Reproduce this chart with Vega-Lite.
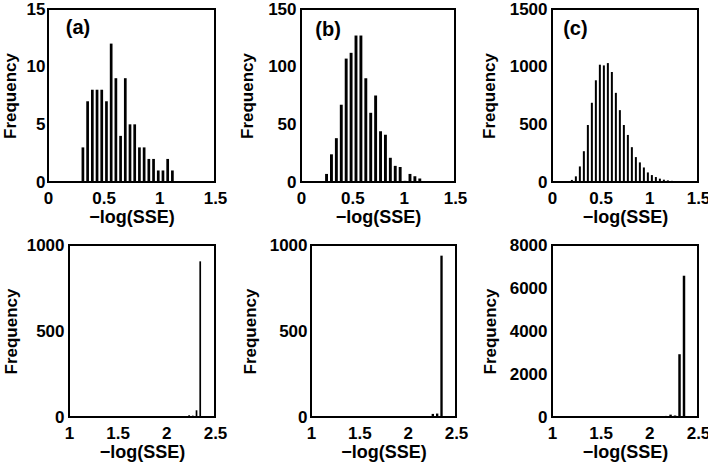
{
  "$schema": "https://vega.github.io/schema/vega-lite/v6.json",
  "padding": {"left": 0, "top": -1, "right": 0, "bottom": 0},
  "background": "white",
  "datasets": {
    "a1": [
      {"lo": 0.2879, "hi": 0.3302, "n": 3},
      {"lo": 0.3302, "hi": 0.3725, "n": 7},
      {"lo": 0.3725, "hi": 0.4148, "n": 8},
      {"lo": 0.4148, "hi": 0.4571, "n": 8},
      {"lo": 0.4571, "hi": 0.4994, "n": 8},
      {"lo": 0.4994, "hi": 0.5417, "n": 7},
      {"lo": 0.5417, "hi": 0.5840, "n": 12},
      {"lo": 0.5840, "hi": 0.6263, "n": 9},
      {"lo": 0.6263, "hi": 0.6686, "n": 4},
      {"lo": 0.6686, "hi": 0.7109, "n": 9},
      {"lo": 0.7109, "hi": 0.7532, "n": 5},
      {"lo": 0.7532, "hi": 0.7955, "n": 5},
      {"lo": 0.7955, "hi": 0.8378, "n": 3},
      {"lo": 0.8378, "hi": 0.8801, "n": 3},
      {"lo": 0.8801, "hi": 0.9224, "n": 2},
      {"lo": 0.9224, "hi": 0.9647, "n": 2},
      {"lo": 0.9647, "hi": 1.0070, "n": 1},
      {"lo": 1.0070, "hi": 1.0493, "n": 1},
      {"lo": 1.0493, "hi": 1.0916, "n": 2},
      {"lo": 1.0916, "hi": 1.1339, "n": 1}
    ],
    "b1": [
      {"lo": 0.2201, "hi": 0.2679, "n": 7},
      {"lo": 0.2679, "hi": 0.3157, "n": 24},
      {"lo": 0.3157, "hi": 0.3635, "n": 38},
      {"lo": 0.3635, "hi": 0.4113, "n": 67},
      {"lo": 0.4113, "hi": 0.4591, "n": 107},
      {"lo": 0.4591, "hi": 0.5069, "n": 112},
      {"lo": 0.5069, "hi": 0.5547, "n": 127},
      {"lo": 0.5547, "hi": 0.6025, "n": 127},
      {"lo": 0.6025, "hi": 0.6503, "n": 90},
      {"lo": 0.6503, "hi": 0.6981, "n": 60},
      {"lo": 0.6981, "hi": 0.7459, "n": 75},
      {"lo": 0.7459, "hi": 0.7937, "n": 44},
      {"lo": 0.7937, "hi": 0.8415, "n": 41},
      {"lo": 0.8415, "hi": 0.8893, "n": 21},
      {"lo": 0.8893, "hi": 0.9371, "n": 14},
      {"lo": 0.9371, "hi": 0.9849, "n": 13},
      {"lo": 0.9849, "hi": 1.0327, "n": 1},
      {"lo": 1.0327, "hi": 1.0805, "n": 7},
      {"lo": 1.0805, "hi": 1.1283, "n": 5},
      {"lo": 1.1283, "hi": 1.1761, "n": 3}
    ],
    "c1": [
      {"lo": 0.0140, "hi": 0.0551, "n": 2},
      {"lo": 0.0551, "hi": 0.0962, "n": 3},
      {"lo": 0.0962, "hi": 0.1373, "n": 5},
      {"lo": 0.1373, "hi": 0.1784, "n": 8},
      {"lo": 0.1784, "hi": 0.2195, "n": 18},
      {"lo": 0.2195, "hi": 0.2606, "n": 49},
      {"lo": 0.2606, "hi": 0.3017, "n": 135},
      {"lo": 0.3017, "hi": 0.3428, "n": 267},
      {"lo": 0.3428, "hi": 0.3839, "n": 494},
      {"lo": 0.3839, "hi": 0.4250, "n": 687},
      {"lo": 0.4250, "hi": 0.4661, "n": 882},
      {"lo": 0.4661, "hi": 0.5072, "n": 1017},
      {"lo": 0.5072, "hi": 0.5483, "n": 1011},
      {"lo": 0.5483, "hi": 0.5894, "n": 1031},
      {"lo": 0.5894, "hi": 0.6305, "n": 954},
      {"lo": 0.6305, "hi": 0.6716, "n": 773},
      {"lo": 0.6716, "hi": 0.7127, "n": 623},
      {"lo": 0.7127, "hi": 0.7538, "n": 494},
      {"lo": 0.7538, "hi": 0.7949, "n": 408},
      {"lo": 0.7949, "hi": 0.8360, "n": 302},
      {"lo": 0.8360, "hi": 0.8771, "n": 216},
      {"lo": 0.8771, "hi": 0.9182, "n": 170},
      {"lo": 0.9182, "hi": 0.9593, "n": 126},
      {"lo": 0.9593, "hi": 1.0004, "n": 83},
      {"lo": 1.0004, "hi": 1.0415, "n": 60},
      {"lo": 1.0415, "hi": 1.0826, "n": 43},
      {"lo": 1.0826, "hi": 1.1237, "n": 29},
      {"lo": 1.1237, "hi": 1.1648, "n": 20},
      {"lo": 1.1648, "hi": 1.2059, "n": 14},
      {"lo": 1.2059, "hi": 1.2470, "n": 10},
      {"lo": 1.2470, "hi": 1.2881, "n": 7},
      {"lo": 1.2881, "hi": 1.3292, "n": 5},
      {"lo": 1.3292, "hi": 1.3703, "n": 4},
      {"lo": 1.3703, "hi": 1.4114, "n": 3},
      {"lo": 1.4114, "hi": 1.4525, "n": 2}
    ],
    "a2": [
      {"lo": 1.488, "hi": 1.526, "n": 1},
      {"lo": 1.526, "hi": 1.564, "n": 1},
      {"lo": 1.564, "hi": 1.602, "n": 1},
      {"lo": 1.602, "hi": 1.640, "n": 1},
      {"lo": 1.640, "hi": 1.678, "n": 2},
      {"lo": 1.678, "hi": 1.716, "n": 1},
      {"lo": 1.716, "hi": 1.754, "n": 1},
      {"lo": 1.754, "hi": 1.792, "n": 2},
      {"lo": 1.792, "hi": 1.830, "n": 1},
      {"lo": 1.830, "hi": 1.868, "n": 2},
      {"lo": 1.868, "hi": 1.906, "n": 2},
      {"lo": 1.906, "hi": 1.944, "n": 2},
      {"lo": 1.944, "hi": 1.982, "n": 2},
      {"lo": 1.982, "hi": 2.020, "n": 3},
      {"lo": 2.020, "hi": 2.058, "n": 3},
      {"lo": 2.058, "hi": 2.096, "n": 4},
      {"lo": 2.096, "hi": 2.134, "n": 4},
      {"lo": 2.134, "hi": 2.172, "n": 5},
      {"lo": 2.172, "hi": 2.210, "n": 5},
      {"lo": 2.210, "hi": 2.248, "n": 10},
      {"lo": 2.248, "hi": 2.286, "n": 8},
      {"lo": 2.286, "hi": 2.324, "n": 39},
      {"lo": 2.324, "hi": 2.362, "n": 905}
    ],
    "b2": [
      {"lo": 1.5125, "hi": 1.5575, "n": 1},
      {"lo": 1.5575, "hi": 1.6025, "n": 1},
      {"lo": 1.6025, "hi": 1.6475, "n": 1},
      {"lo": 1.6475, "hi": 1.6925, "n": 1},
      {"lo": 1.6925, "hi": 1.7375, "n": 1},
      {"lo": 1.7375, "hi": 1.7825, "n": 1},
      {"lo": 1.7825, "hi": 1.8275, "n": 1},
      {"lo": 1.8275, "hi": 1.8725, "n": 1},
      {"lo": 1.8725, "hi": 1.9175, "n": 1},
      {"lo": 1.9175, "hi": 1.9625, "n": 1},
      {"lo": 1.9625, "hi": 2.0075, "n": 2},
      {"lo": 2.0075, "hi": 2.0525, "n": 1},
      {"lo": 2.0525, "hi": 2.0975, "n": 2},
      {"lo": 2.0975, "hi": 2.1425, "n": 2},
      {"lo": 2.1425, "hi": 2.1875, "n": 3},
      {"lo": 2.1875, "hi": 2.2325, "n": 4},
      {"lo": 2.2325, "hi": 2.2775, "n": 18},
      {"lo": 2.2775, "hi": 2.3225, "n": 20},
      {"lo": 2.3225, "hi": 2.3675, "n": 938}
    ],
    "c2": [
      {"lo": 1.454, "hi": 1.500, "n": 3},
      {"lo": 1.500, "hi": 1.546, "n": 4},
      {"lo": 1.546, "hi": 1.592, "n": 4},
      {"lo": 1.592, "hi": 1.638, "n": 5},
      {"lo": 1.638, "hi": 1.684, "n": 6},
      {"lo": 1.684, "hi": 1.730, "n": 8},
      {"lo": 1.730, "hi": 1.776, "n": 10},
      {"lo": 1.776, "hi": 1.822, "n": 10},
      {"lo": 1.822, "hi": 1.868, "n": 12},
      {"lo": 1.868, "hi": 1.914, "n": 15},
      {"lo": 1.914, "hi": 1.960, "n": 18},
      {"lo": 1.960, "hi": 2.006, "n": 20},
      {"lo": 2.006, "hi": 2.052, "n": 25},
      {"lo": 2.052, "hi": 2.098, "n": 30},
      {"lo": 2.098, "hi": 2.144, "n": 35},
      {"lo": 2.144, "hi": 2.190, "n": 50},
      {"lo": 2.190, "hi": 2.236, "n": 110},
      {"lo": 2.236, "hi": 2.282, "n": 70},
      {"lo": 2.282, "hi": 2.328, "n": 2920},
      {"lo": 2.328, "hi": 2.374, "n": 6571}
    ],
    "none": [{"d": 0}]
  },
  "config": {
    "font": "Liberation Sans",
    "view": {"stroke": "black", "strokeWidth": 2},
    "axis": {
      "domain": false, "ticks": false, "tickSize": 0, "grid": false,
      "labelFont": "Liberation Sans", "labelFontSize": 17, "labelFontWeight": "bold", "labelColor": "black",
      "titleFont": "Liberation Sans", "titleFontSize": 17, "titleFontWeight": "bold", "titleColor": "black",
      "labelFlush": false, "labelOverlap": false, "labelBound": false
    },
    "axisX": {"labelPadding": 8, "titlePadding": 2, "titleFontSize": 18},
    "text": {"font": "Liberation Sans"}
  },
  "spacing": 8,
  "vconcat": [
    {
      "bounds": "flush",
      "spacing": 0,
      "hconcat": [
        {"width": 47, "height": 1, "view": {"stroke": null}, "data": {"name": "none"}, "mark": {"type": "point", "opacity": 0}, "encoding": {}},
        {
          "width": 167, "height": 173,
          "layer": [
            {
              "data": {"name": "a1"},
              "mark": {"type": "bar", "color": "black", "binSpacing": 2},
              "encoding": {
                "x": {"field": "lo", "type": "quantitative", "bin": "binned", "scale": {"domain": [0, 1.5], "nice": false, "zero": false}, "axis": {"values": [0, 0.5, 1, 1.5], "format": "~g", "title": "−log(SSE)"}},
                "x2": {"field": "hi"},
                "y": {"field": "n", "type": "quantitative", "scale": {"domain": [0, 15], "nice": false}, "axis": {"values": [0, 5, 10, 15], "format": "d", "title": "Frequency", "titlePadding": 7, "labelPadding": 3}}
              }
            },
            {
              "data": {"values": [{"x": 0.16, "y": 12.8, "t": "(a)"}]},
              "mark": {"type": "text", "align": "left", "baseline": "alphabetic", "fontSize": 20, "fontWeight": "bold", "color": "black"},
              "encoding": {
                "x": {"field": "x", "type": "quantitative", "scale": {"domain": [0, 1.5], "nice": false, "zero": false}, "axis": {"values": [0, 0.5, 1, 1.5], "format": "~g", "title": "−log(SSE)"}},
                "y": {"field": "y", "type": "quantitative", "scale": {"domain": [0, 15], "nice": false}, "axis": {"values": [0, 5, 10, 15], "format": "d", "title": "Frequency", "titlePadding": 7, "labelPadding": 3}},
                "text": {"field": "t"}
              }
            }
          ]
        },
        {"width": 86, "height": 1, "view": {"stroke": null}, "data": {"name": "none"}, "mark": {"type": "point", "opacity": 0}, "encoding": {}},
        {
          "width": 154, "height": 173,
          "layer": [
            {
              "data": {"name": "b1"},
              "mark": {"type": "bar", "color": "black", "binSpacing": 2},
              "encoding": {
                "x": {"field": "lo", "type": "quantitative", "bin": "binned", "scale": {"domain": [0, 1.5], "nice": false, "zero": false}, "axis": {"values": [0, 0.5, 1, 1.5], "format": "~g", "title": "−log(SSE)"}},
                "x2": {"field": "hi"},
                "y": {"field": "n", "type": "quantitative", "scale": {"domain": [0, 150], "nice": false}, "axis": {"values": [0, 50, 100, 150], "format": "d", "title": "Frequency", "titlePadding": 11, "labelPadding": 5}}
              }
            },
            {
              "data": {"values": [{"x": 0.14, "y": 126.7, "t": "(b)"}]},
              "mark": {"type": "text", "align": "left", "baseline": "alphabetic", "fontSize": 20, "fontWeight": "bold", "color": "black"},
              "encoding": {
                "x": {"field": "x", "type": "quantitative", "scale": {"domain": [0, 1.5], "nice": false, "zero": false}, "axis": {"values": [0, 0.5, 1, 1.5], "format": "~g", "title": "−log(SSE)"}},
                "y": {"field": "y", "type": "quantitative", "scale": {"domain": [0, 150], "nice": false}, "axis": {"values": [0, 50, 100, 150], "format": "d", "title": "Frequency", "titlePadding": 11, "labelPadding": 5}},
                "text": {"field": "t"}
              }
            }
          ]
        },
        {"width": 97, "height": 1, "view": {"stroke": null}, "data": {"name": "none"}, "mark": {"type": "point", "opacity": 0}, "encoding": {}},
        {
          "width": 146, "height": 173,
          "layer": [
            {
              "data": {"name": "c1"},
              "mark": {"type": "bar", "color": "black", "binSpacing": 2},
              "encoding": {
                "x": {"field": "lo", "type": "quantitative", "bin": "binned", "scale": {"domain": [0, 1.5], "nice": false, "zero": false}, "axis": {"values": [0, 0.5, 1, 1.5], "format": "~g", "title": "−log(SSE)"}},
                "x2": {"field": "hi"},
                "y": {"field": "n", "type": "quantitative", "scale": {"domain": [0, 1500], "nice": false}, "axis": {"values": [0, 500, 1000, 1500], "format": "d", "title": "Frequency", "titlePadding": 11, "labelPadding": 5}}
              }
            },
            {
              "data": {"values": [{"x": 0.115, "y": 1276, "t": "(c)"}]},
              "mark": {"type": "text", "align": "left", "baseline": "alphabetic", "fontSize": 20, "fontWeight": "bold", "color": "black"},
              "encoding": {
                "x": {"field": "x", "type": "quantitative", "scale": {"domain": [0, 1.5], "nice": false, "zero": false}, "axis": {"values": [0, 0.5, 1, 1.5], "format": "~g", "title": "−log(SSE)"}},
                "y": {"field": "y", "type": "quantitative", "scale": {"domain": [0, 1500], "nice": false}, "axis": {"values": [0, 500, 1000, 1500], "format": "d", "title": "Frequency", "titlePadding": 11, "labelPadding": 5}},
                "text": {"field": "t"}
              }
            }
          ]
        }
      ]
    },
    {
      "bounds": "flush",
      "spacing": 0,
      "hconcat": [
        {"width": 68, "height": 1, "view": {"stroke": null}, "data": {"name": "none"}, "mark": {"type": "point", "opacity": 0}, "encoding": {}},
        {
          "width": 146, "height": 172,
          "data": {"name": "a2"},
          "mark": {"type": "bar", "color": "black", "binSpacing": 2},
          "encoding": {
            "x": {"field": "lo", "type": "quantitative", "bin": "binned", "scale": {"domain": [1, 2.5], "nice": false, "zero": false}, "axis": {"values": [1, 1.5, 2, 2.5], "format": "~g", "title": "−log(SSE)"}},
            "x2": {"field": "hi"},
            "y": {"field": "n", "type": "quantitative", "scale": {"domain": [0, 1000], "nice": false}, "axis": {"values": [0, 500, 1000], "format": "d", "title": "Frequency", "titlePadding": 6, "labelPadding": 5}}
          }
        },
        {"width": 96, "height": 1, "view": {"stroke": null}, "data": {"name": "none"}, "mark": {"type": "point", "opacity": 0}, "encoding": {}},
        {
          "width": 145, "height": 172,
          "data": {"name": "b2"},
          "mark": {"type": "bar", "color": "black", "binSpacing": 2},
          "encoding": {
            "x": {"field": "lo", "type": "quantitative", "bin": "binned", "scale": {"domain": [1, 2.5], "nice": false, "zero": false}, "axis": {"values": [1, 1.5, 2, 2.5], "format": "~g", "title": "−log(SSE)"}},
            "x2": {"field": "hi"},
            "y": {"field": "n", "type": "quantitative", "scale": {"domain": [0, 1000], "nice": false}, "axis": {"values": [0, 500, 1000], "format": "d", "title": "Frequency", "titlePadding": 10, "labelPadding": 4}}
          }
        },
        {"width": 96, "height": 1, "view": {"stroke": null}, "data": {"name": "none"}, "mark": {"type": "point", "opacity": 0}, "encoding": {}},
        {
          "width": 146, "height": 172,
          "data": {"name": "c2"},
          "mark": {"type": "bar", "color": "black", "binSpacing": 2},
          "encoding": {
            "x": {"field": "lo", "type": "quantitative", "bin": "binned", "scale": {"domain": [1, 2.5], "nice": false, "zero": false}, "axis": {"values": [1, 1.5, 2, 2.5], "format": "~g", "title": "−log(SSE)"}},
            "x2": {"field": "hi"},
            "y": {"field": "n", "type": "quantitative", "scale": {"domain": [0, 8000], "nice": false}, "axis": {"values": [0, 2000, 4000, 6000, 8000], "format": "d", "title": "Frequency", "titlePadding": 10, "labelPadding": 5}}
          }
        }
      ]
    }
  ]
}
